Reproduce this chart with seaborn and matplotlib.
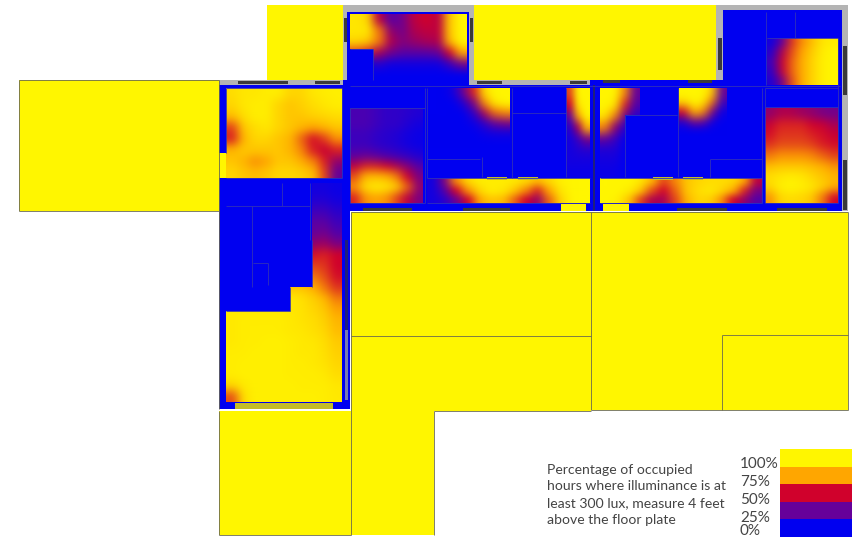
import numpy as np
import seaborn as sns
import matplotlib
matplotlib.use("Agg")
import matplotlib.pyplot as plt
from matplotlib.colors import LinearSegmentedColormap
from matplotlib.patches import Rectangle

# ------------------------- values (percent of hours)
court_room = [
    [95, 90, 45, 22, 28, 45, 50, 45, 85, 100],
    [95, 95, 68, 35, 28, 42, 46, 46, 85, 100],
    [90, 85, 68, 42, 32, 36, 40, 42, 80, 100],
    [60, 55, 40, 28, 22, 22, 22, 25, 50, 75],
    [5, 5, 10, 5, 5, 5, 5, 5, 15, 30],
    [0, 0, 0, 0, 0, 0, 0, 0, 0, 0],
]
west_room = [
    [92, 95, 95, 97, 97, 90, 90, 95, 97, 98],
    [90, 95, 97, 97, 90, 85, 88, 92, 95, 97],
    [82, 92, 97, 97, 90, 85, 85, 88, 90, 92],
    [60, 85, 92, 95, 90, 85, 80, 75, 80, 85],
    [55, 80, 90, 90, 85, 80, 65, 52, 60, 72],
    [80, 85, 85, 85, 85, 80, 70, 55, 48, 55],
    [85, 80, 72, 75, 85, 85, 78, 70, 55, 35],
    [90, 85, 82, 85, 90, 90, 88, 82, 60, 25],
]
bedroom_a = [
    [18, 18, 15, 12, 12, 10, 8],
    [18, 18, 15, 12, 12, 8, 5],
    [15, 15, 12, 10, 8, 5, 3],
    [15, 15, 12, 10, 8, 5, 3],
    [22, 25, 22, 18, 15, 12, 8],
    [45, 55, 55, 50, 42, 32, 20],
    [62, 80, 82, 78, 68, 50, 30],
    [72, 92, 98, 95, 88, 65, 35],
    [55, 72, 75, 72, 60, 45, 30],
]
living_a = [
    [0, 0, 5, 25, 55, 90, 100, 100],
    [0, 0, 0, 8, 30, 70, 95, 100],
    [0, 0, 0, 0, 12, 40, 65, 70],
    [0, 0, 0, 0, 3, 12, 25, 30],
    [0, 0, 0, 0, 0, 3, 5, 5],
    [0, 0, 0, 0, 0, 0, 0, 0],
]
strip_a = [
    [5, 30, 70, 90, 97, 97, 97, 95, 90, 80, 90, 98, 100, 100],
    [5, 20, 50, 72, 90, 97, 95, 85, 70, 55, 75, 95, 100, 100],
    [5, 10, 25, 50, 75, 85, 82, 65, 50, 35, 65, 90, 100, 100],
]
column_a = [
    [60, 100, 100],
    [50, 95, 100],
    [25, 75, 100],
    [10, 40, 80],
    [5, 15, 30],
    [5, 8, 10],
    [5, 5, 5],
    [3, 3, 3],
]
column_b = [
    [100, 100, 70, 25],
    [100, 95, 55, 20],
    [95, 70, 30, 10],
    [70, 35, 10, 0],
    [25, 15, 0, 0],
    [8, 8, 0, 0],
    [5, 5, 0, 0],
    [3, 3, 0, 0],
]
living_b = [
    [100, 100, 100, 85, 25],
    [90, 100, 95, 65, 15],
    [50, 80, 70, 30, 3],
    [10, 30, 25, 5, 0],
    [0, 0, 0, 0, 0],
]
strip_b = [
    [100, 100, 100, 95, 80, 60, 70, 85, 90, 92, 92, 90, 75, 45],
    [100, 100, 97, 85, 62, 50, 65, 85, 92, 95, 90, 78, 55, 30],
    [100, 98, 85, 60, 42, 40, 60, 80, 90, 88, 72, 50, 35, 20],
]
bedroom_b = [
    [35, 42, 42, 38, 35, 30, 28],
    [48, 55, 55, 55, 50, 48, 40],
    [52, 58, 58, 58, 55, 52, 48],
    [58, 62, 62, 62, 60, 55, 52],
    [68, 72, 72, 72, 70, 65, 60],
    [82, 85, 85, 85, 82, 78, 72],
    [92, 95, 97, 95, 90, 85, 80],
    [90, 98, 100, 98, 95, 88, 78],
    [72, 90, 92, 90, 85, 68, 50],
]
north_room = [
    [5, 25, 58, 72, 84, 95, 97],
    [10, 42, 62, 75, 88, 97, 100],
    [15, 48, 65, 78, 90, 98, 100],
    [12, 46, 65, 78, 90, 98, 100],
    [8, 30, 62, 78, 90, 98, 100],
]
south_room = [
    [5, 5, 5, 5, 5, 5, 5, 5, 5, 3],
    [8, 8, 8, 8, 8, 8, 8, 8, 8, 5],
    [15, 15, 15, 15, 15, 15, 15, 15, 15, 10],
    [22, 22, 22, 22, 22, 22, 22, 22, 22, 15],
    [25, 25, 25, 25, 25, 25, 25, 25, 28, 20],
    [35, 35, 35, 35, 35, 35, 35, 35, 38, 30],
    [52, 52, 52, 52, 52, 52, 52, 52, 55, 50],
    [60, 60, 60, 60, 60, 60, 60, 60, 58, 50],
    [68, 68, 68, 68, 68, 68, 68, 68, 62, 52],
    [85, 85, 85, 85, 85, 85, 85, 78, 68, 58],
    [96, 96, 96, 96, 96, 96, 93, 88, 80, 68],
    [96, 96, 96, 96, 96, 95, 94, 90, 85, 74],
    [96, 97, 97, 97, 97, 96, 94, 92, 88, 80],
    [96, 97, 97, 97, 97, 96, 95, 93, 90, 82],
    [96, 97, 97, 98, 98, 97, 96, 95, 92, 86],
    [97, 97, 98, 98, 98, 97, 96, 96, 93, 88],
    [97, 98, 98, 98, 98, 97, 97, 96, 94, 90],
    [97, 98, 98, 98, 98, 97, 97, 97, 96, 92],
    [90, 96, 98, 98, 98, 98, 97, 97, 97, 95],
    [62, 92, 98, 98, 98, 98, 98, 98, 97, 96],
]
legend_values = [[100], [75], [50], [25], [0]]
legend_labels = ["100%", "75%", "50%", "25%", "0%"]
caption_lines = ["Percentage of occupied", "hours where illuminance is at",
                 "least 300 lux, measure 4 feet", "above the floor plate"]
site_value = 100
unlit_value = 0

# ------------------------- layout, in pixels of the picture
W, H = 853, 537
PAPER = (W / 100, H / 100)
site_blocks = [(19, 80, 219, 211), (267, 5, 343, 80), (474, 5, 716, 80),
               (351, 212, 591, 411), (351, 411, 434, 535), (591, 212, 848, 410),
               (219, 411, 351, 535)]
floor_blocks = [(347, 12, 469, 80), (219, 80, 350, 409), (350, 80, 842, 211),
                (723, 10, 842, 85)]
lit_slots = [(219, 153, 226, 178), (561, 204, 586, 211), (603, 204, 629, 211)]
heat_zones = [
    (court_room, (350, 14, 467, 80)), (west_room, (226, 88, 342, 178)),
    (bedroom_a, (350, 108, 423, 203)), (living_a, (427, 88, 510, 148)),
    (strip_a, (427, 178, 590, 203)), (column_a, (566, 88, 590, 177)),
    (column_b, (600, 88, 640, 177)), (living_b, (679, 88, 727, 136)),
    (strip_b, (600, 178, 762, 203)), (bedroom_b, (765, 108, 838, 203)),
    (north_room, (767, 38, 838, 85)), (south_room, (226, 183, 342, 402)),
]
dark_blocks = [(350, 49, 373, 80), (226, 178, 312, 287), (226, 287, 290, 311),
               (512, 113, 566, 177), (625, 115, 677, 177), (427, 159, 480, 177)]
gray_rects = [(343, 5, 474, 12), (343, 5, 347, 80), (469, 5, 474, 80),
              (716, 5, 723, 80), (716, 5, 848, 10), (842, 5, 848, 211),
              (219, 80, 343, 85), (469, 80, 590, 85)]
dark_rects = [(344, 18, 347, 42), (470, 18, 473, 42), (718, 38, 722, 70),
              (843, 46, 847, 95), (843, 160, 847, 210), (238, 81, 288, 84),
              (315, 81, 340, 84), (477, 81, 502, 84), (570, 81, 587, 84),
              (603, 80, 620, 83), (688, 80, 712, 83), (363, 208, 412, 211),
              (463, 208, 510, 211), (677, 208, 727, 211), (777, 208, 827, 211)]
muted_rects = [(345, 330, 348, 400)]
deep_rects = [(345, 240, 348, 330), (593, 85, 595, 211)]
glass_rects = [(235, 403, 333, 409), (487, 177, 507, 180), (518, 177, 538, 180),
               (653, 177, 673, 180), (683, 177, 703, 180)]
room_lines = [
    (226, 88, 342, 88), (226, 178, 342, 178), (226, 88, 226, 153), (342, 88, 342, 178),
    (350, 108, 425, 108), (350, 203, 425, 203), (425, 88, 425, 203), (350, 108, 350, 203),
    (427, 88, 427, 178), (512, 88, 512, 178), (427, 178, 590, 178), (427, 203, 590, 203),
    (427, 159, 480, 159), (482, 157, 482, 177), (512, 113, 566, 113), (566, 88, 566, 177),
    (625, 115, 677, 115), (625, 115, 625, 177), (678, 88, 678, 177), (600, 178, 762, 178),
    (710, 159, 762, 159), (710, 159, 710, 177), (762, 88, 762, 203), (600, 203, 762, 203),
    (765, 88, 838, 88), (765, 107, 838, 107), (765, 203, 838, 203), (765, 88, 765, 203),
    (838, 38, 838, 203), (766, 12, 766, 85), (795, 12, 795, 38), (767, 38, 838, 38),
    (282, 183, 282, 206), (310, 183, 310, 240), (226, 206, 310, 206), (252, 206, 252, 287),
    (312, 240, 312, 287), (253, 263, 268, 263), (268, 263, 268, 285), (226, 311, 290, 311),
    (290, 287, 290, 311), (350, 49, 373, 49), (373, 49, 373, 80), (350, 86, 840, 86),
]
site_lines = [
    (19, 80, 219, 80), (19, 80, 19, 211), (19, 211, 219, 211), (219, 80, 219, 409),
    (219, 411, 219, 535), (351, 212, 351, 535), (351, 336, 591, 336), (434, 411, 434, 535),
    (434, 411, 591, 411), (591, 212, 591, 410), (591, 410, 848, 410), (848, 212, 848, 410),
    (722, 335, 848, 335), (722, 335, 722, 410), (351, 212, 848, 212), (219, 535, 351, 535),
]

ramp = LinearSegmentedColormap.from_list(
    "daylight", [(0, "#0000f0"), (.25, "#66009a"), (.5, "#d0002c"),
                 (.75, "#ffa500"), (1, "#fff600")])


def soften(rx, ry):
    def _filter(img, dpi):
        out = img.copy()
        for _ in range(3):
            for axis, width in ((0, ry), (1, rx)):
                pad = [(0, 0)] * 3
                pad[axis] = (width + 1, width)
                cum = np.cumsum(np.pad(out, pad, mode="edge"), axis=axis)
                hi = np.take(cum, range(2 * width + 1, cum.shape[axis]), axis=axis)
                lo = np.take(cum, range(0, cum.shape[axis] - 2 * width - 1), axis=axis)
                out = (hi - lo) / (2 * width + 1)
        out[..., 3] = img[..., 3]
        return out, 0, 0
    return _filter


fig = plt.figure(figsize=PAPER, dpi=100, facecolor="white")


def cells(values, box, blur=False):
    x0, y0, x1, y1 = box
    ax = fig.add_axes([x0 / W, 1 - y1 / H, (x1 - x0) / W, (y1 - y0) / H])
    sns.heatmap(np.array(values, float), ax=ax, cmap=ramp, vmin=0, vmax=100,
                cbar=False, xticklabels=False, yticklabels=False)
    ax.set_axis_off()
    if blur:
        arr = np.array(values)
        rx = max(2, int((x1 - x0) / arr.shape[1] * 0.42))
        ry = max(2, int((y1 - y0) / arr.shape[0] * 0.42))
        ax.collections[0].set_agg_filter(soften(rx, ry))
    return ax


for box in site_blocks:
    cells([[site_value]], box)
for box in floor_blocks:
    cells([[unlit_value]], box)
for box in lit_slots:
    cells([[site_value]], box)
for values, box in heat_zones:
    cells(values, box, blur=True)
for box in dark_blocks:
    cells([[unlit_value]], box)
cells(legend_values, (780, 449, 852, 537))

top = fig.add_axes([0, 0, 1, 1], facecolor="none")
top.set_xlim(0, W)
top.set_ylim(H, 0)
top.set_axis_off()
for rects, colour in ((gray_rects, "#b4b4b4"), (dark_rects, "#3a3a3a"), (glass_rects, "#c4bc28"),
                      (muted_rects, "#7a7ab0"), (deep_rects, "#20207a")):
    for x0, y0, x1, y1 in rects:
        top.add_patch(Rectangle((x0, y0), x1 - x0, y1 - y0, fc=colour, ec="none"))
for x0, y0, x1, y1 in room_lines:
    top.plot([x0, x1], [y0, y1], color="#3030b8", lw=0.6, solid_capstyle="butt")
for x0, y0, x1, y1 in site_lines:
    top.plot([x0, x1], [y0, y1], color="#6a6a50", lw=0.6, solid_capstyle="butt")

for line, y in zip(caption_lines, (470, 486.5, 503, 519.5)):
    top.text(547, y, line, family="Lato", fontsize=10.05, color="#444444", va="center", ha="left")
for label, y in zip(legend_labels, (464, 482, 500, 518, 531)):
    top.text(740, y, label, family="Lato", fontsize=11, color="#444444", va="center", ha="left")

fig.savefig("out.png", dpi=100)
